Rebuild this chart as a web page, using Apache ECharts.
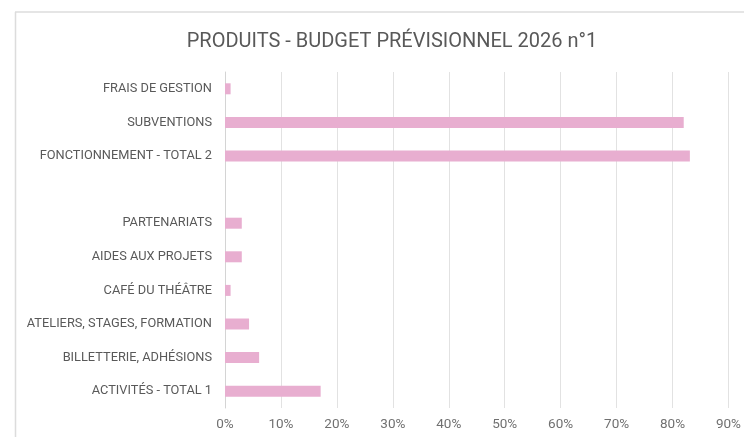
<!DOCTYPE html>
<html><head><meta charset="utf-8">
<script src="https://cdn.jsdelivr.net/npm/echarts@6/dist/echarts.min.js"></script>
<style>html,body{margin:0;padding:0;background:#fff}#c{width:744px;height:437px}</style>
</head><body><div id="c"></div>
<script>
const categories = ["ACTIVITÉS - TOTAL 1","BILLETTERIE, ADHÉSIONS","ATELIERS, STAGES, FORMATION","CAFÉ DU THÉÂTRE","AIDES AUX PROJETS","PARTENARIATS","","FONCTIONNEMENT - TOTAL 2","SUBVENTIONS","FRAIS DE GESTION"];
const values = [17.1, 6.1, 4.3, 1.0, 3.0, 3.0, null, 83.1, 82.0, 1.0];
const titleText = "PRODUITS - BUDGET PRÉVISIONNEL 2026 n°1";
const chart = echarts.init(document.getElementById('c'));
chart.setOption({
  animation: false,
  backgroundColor: '#fff',
  title: { text: titleText, left: 387, top: 27, textAlign: 'center',
    textStyle: { fontFamily: 'Roboto', fontSize: 20, fontWeight: 'normal', color: '#595959' } },
  graphic: [
    { type: 'line', shape: { x1: 15, y1: 12, x2: 744, y2: 12 }, style: { stroke: '#dcdcdc', lineWidth: 1.5 } },
    { type: 'line', shape: { x1: 15.5, y1: 12, x2: 15.5, y2: 437 }, style: { stroke: '#dcdcdc', lineWidth: 1.5 } }
  ],
  grid: { left: 225, right: 13, top: 72, bottom: 29, containLabel: false },
  xAxis: { type: 'value', min: 0, max: 90, interval: 10,
    axisLabel: { formatter: '{value}%', color: '#707070', fontFamily: 'Roboto', fontSize: 13.5, margin: 10 },
    axisLine: { show: false }, axisTick: { show: false },
    splitLine: { lineStyle: { color: '#e2e2e2', width: 1 } } },
  yAxis: { type: 'category', data: categories,
    axisLabel: { color: '#595959', fontFamily: 'Roboto', fontSize: 12.8, margin: 13 },
    axisLine: { show: true, lineStyle: { color: '#d4d4d4' } }, axisTick: { show: false } },
  series: [{ type: 'bar', data: values, barWidth: 11, itemStyle: { color: '#e8aed0' } }]
});
</script></body></html>
